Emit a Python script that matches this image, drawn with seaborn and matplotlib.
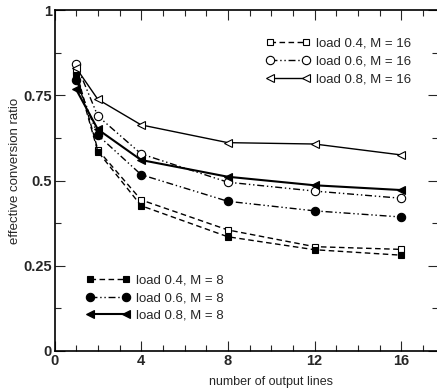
import matplotlib
matplotlib.use("Agg")
import matplotlib.pyplot as plt
import seaborn as sns
import pandas as pd
from matplotlib.ticker import MultipleLocator

x_lines = [1, 2, 4, 8, 12, 16]
m16_load04 = [0.820, 0.590, 0.443, 0.355, 0.306, 0.298]
m16_load06 = [0.842, 0.689, 0.578, 0.495, 0.469, 0.448]
m16_load08 = [0.830, 0.738, 0.663, 0.611, 0.607, 0.575]
m8_load04 = [0.810, 0.585, 0.426, 0.335, 0.297, 0.281]
m8_load06 = [0.795, 0.633, 0.517, 0.439, 0.411, 0.393]
m8_load08 = [0.767, 0.650, 0.560, 0.511, 0.486, 0.472]

labels_m16 = ["load 0.4, M = 16", "load 0.6, M = 16", "load 0.8, M = 16"]
labels_m8 = ["load 0.4, M = 8", "load 0.6, M = 8", "load 0.8, M = 8"]

sns.set_style("ticks")
plt.rcParams['font.family'] = ['Liberation Sans', 'DejaVu Sans']

W, H = 437, 392
x0, x1, y0, y1 = 54.5, 438.0, 351.0, 10.0
fig = plt.figure(figsize=(W / 100, H / 100), dpi=100)
ax = fig.add_axes([x0 / W, 1 - y0 / H, (x1 - x0) / W, (y0 - y1) / H])

def ax_x(px):
    return (px - x0) / (x1 - x0)

def ax_y(py):
    return (y0 - py) / (y0 - y1)

dash = (0, (4, 2.5))
dashdotdot = (0, (5, 2, 1, 2, 1, 2))

specs = [
    (m16_load04, labels_m16[0], 's', dash, 'white', 1.0, 5),
    (m16_load06, labels_m16[1], 'o', dashdotdot, 'white', 1.0, 6),
    (m16_load08, labels_m16[2], '<', '-', 'white', 1.0, 6),
    (m8_load04, labels_m8[0], 's', dash, 'black', 1.0, 5),
    (m8_load06, labels_m8[1], 'o', dashdotdot, 'black', 1.0, 6),
    (m8_load08, labels_m8[2], '<', '-', 'black', 1.5, 6),
]

handles = []
for vals, lab, mk, ls, mfc, lw, ms in specs:
    df = pd.DataFrame({"x": x_lines, "y": vals})
    sns.lineplot(data=df, x="x", y="y", ax=ax, color='black', marker=mk,
                 linestyle=ls, linewidth=lw, markersize=ms,
                 markerfacecolor=mfc, markeredgecolor='black',
                 markeredgewidth=0.8, label=lab, legend=False)
    handles.append(ax.lines[-1])

ax.set_xlim(0, 17.7)
ax.set_ylim(0, 1)
ax.xaxis.set_minor_locator(MultipleLocator(1))
ax.yaxis.set_minor_locator(MultipleLocator(0.125))
ax.set_yticks([0, 0.25, 0.5, 0.75, 1])
ax.set_yticklabels(["0", "0.25", "0.5", "0.75", "1"])
ax.set_xticks([0, 4, 8, 12, 16])
ax.set_xticklabels(["0", "4", "8", "12", "16"])
ax.tick_params(which='both', direction='in', top=True, right=True, width=0.8,
               labelsize=10.5, pad=2)
ax.tick_params(which='major', length=7)
ax.tick_params(which='minor', length=4)
for lbl in ax.get_xticklabels() + ax.get_yticklabels():
    lbl.set_fontweight('bold')
for s in ax.spines.values():
    s.set_linewidth(1.2)
    s.set_color('black')

ax.set_xlabel("number of output lines", fontsize=9)
ax.set_ylabel("effective conversion ratio", fontsize=9.5)
ax.xaxis.set_label_coords(ax_x(271), ax_y(382))
ax.xaxis.label.set_va('center')
ax.yaxis.set_label_coords(ax_x(15), ax_y(171))
ax.yaxis.label.set_va('center')

common = dict(frameon=False, numpoints=2, handlelength=3.3, handletextpad=0.5,
              fontsize=9.5, borderaxespad=0, borderpad=0)
leg1 = ax.legend(handles[:3], labels_m16, loc='upper left', labelspacing=0.45,
                 bbox_to_anchor=(ax_x(266), ax_y(37)), **common)
ax.add_artist(leg1)
ax.legend(handles[3:], labels_m8, loc='lower left', labelspacing=0.4,
          bbox_to_anchor=(ax_x(86), ax_y(322)), **common)

fig.savefig("out.png", dpi=100)
